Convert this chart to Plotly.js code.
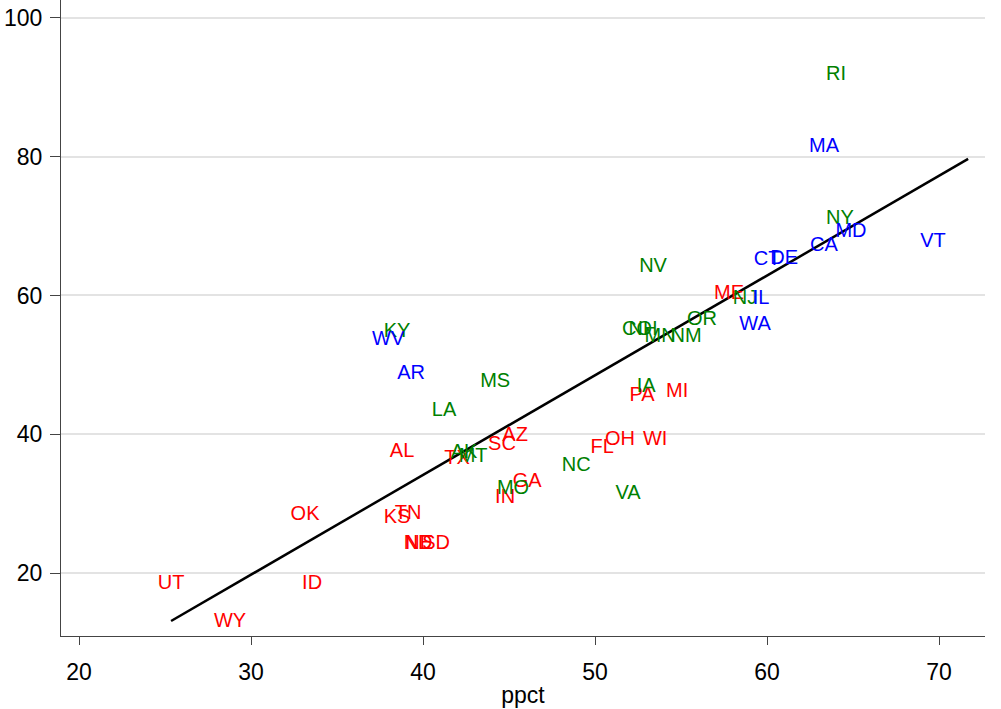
<!DOCTYPE html>
<html>
<head>
<meta charset="utf-8">
<script src="https://cdn.plot.ly/plotly-3.0.1.min.js"></script>
<style>html,body{margin:0;padding:0;background:#fff;}#chart{width:1001px;height:709px;}</style>
</head>
<body>
<div id="chart"></div>
<script>
// States grouped by label colour
const blueStates = ["HI","MA","MD","VT","CA","DE","CT","IL","WA","WV","AR"];
const blueX = [72.91,63.31,64.88,69.65,63.31,60.99,60.00,59.65,59.30,37.97,39.30];
const blueY = [85.86,81.39,69.14,67.70,67.12,65.25,65.11,59.48,55.74,53.57,48.67];

const greenStates = ["RI","NY","NV","OR","CO","NH","MN","NM","KY","MS","LA","IA","NC","VA","AK","MT","MO","NJ"];
const greenX = [64.01,64.24,53.37,56.22,52.44,52.79,53.78,55.29,38.49,44.19,41.22,52.97,48.90,51.92,42.38,42.91,45.23,58.72];
const greenY = [91.77,71.02,64.10,56.46,55.02,55.02,54.01,54.01,54.73,47.52,43.34,46.80,35.41,31.38,37.29,36.71,32.10,59.48];

const redStates = ["ME","MI","PA","WI","OH","FL","AZ","SC","TX","AL","GA","IN","OK","KS","TN","ND","NE","SD","UT","ID","WY"];
const redX = [57.79,54.77,52.73,53.49,51.45,50.41,45.35,44.59,41.98,38.78,46.05,44.77,33.14,38.49,39.13,39.71,39.77,40.76,25.35,33.55,28.78];
const redY = [60.20,46.08,45.50,39.16,39.16,38.01,39.74,38.44,36.42,37.43,33.11,30.80,28.35,27.92,28.49,24.17,24.17,24.17,18.40,18.40,12.93];

// Fitted line endpoints
const fitX = [25.35, 71.69];
const fitY = [13.08, 79.68];

const xTicks = [20,30,40,50,60,70];
const yTicks = [20,40,60,80,100];

const labelFont = "Liberation Sans, Arial, sans-serif";
function labels(xs, ys, txt, col){
  return {type:"scatter", mode:"text", x:xs, y:ys, text:txt,
    textposition:"middle center", cliponaxis:false, hoverinfo:"skip",
    textfont:{family:labelFont, size:20, color:col}, showlegend:false};
}

const traces = [
  {type:"scatter", mode:"lines", x:fitX, y:fitY, line:{color:"#000000", width:2.5}, showlegend:false, hoverinfo:"skip"},
  labels(redX, redY, redStates, "#ff0000"),
  labels(greenX, greenY, greenStates, "#008000"),
  labels(blueX, blueY, blueStates, "#0000ff")
];

const layout = {
  width:1001, height:709,
  margin:{l:61, r:16, t:0, b:73, pad:0},
  paper_bgcolor:"#ffffff", plot_bgcolor:"#ffffff",
  showlegend:false,
  font:{family:labelFont, color:"#000000"},
  xaxis:{
    range:[18.95, 72.67], tickvals:xTicks, ticktext:xTicks.map(String),
    ticks:"outside", ticklen:8, tickwidth:1, tickcolor:"#444",
    showline:true, linecolor:"#444", linewidth:1, mirror:false,
    showgrid:false, zeroline:false,
    ticklabelstandoff:7,
    tickfont:{family:labelFont, size:23, color:"#000"},
    title:{text:"ppct", standoff:3, font:{family:labelFont, size:23, color:"#000"}}
  },
  yaxis:{
    range:[10.92, 102.59], tickvals:yTicks, ticktext:yTicks.map(String),
    ticks:"outside", ticklen:10, tickwidth:1, tickcolor:"#444",
    showline:true, linecolor:"#444", linewidth:1,
    showgrid:true, gridcolor:"#e3e3e3", gridwidth:2, zeroline:false,
    ticklabelstandoff:3,
    tickfont:{family:labelFont, size:23, color:"#000"}
  }
};

Plotly.newPlot("chart", traces, layout, {staticPlot:true, displayModeBar:false});
</script>
</body>
</html>
